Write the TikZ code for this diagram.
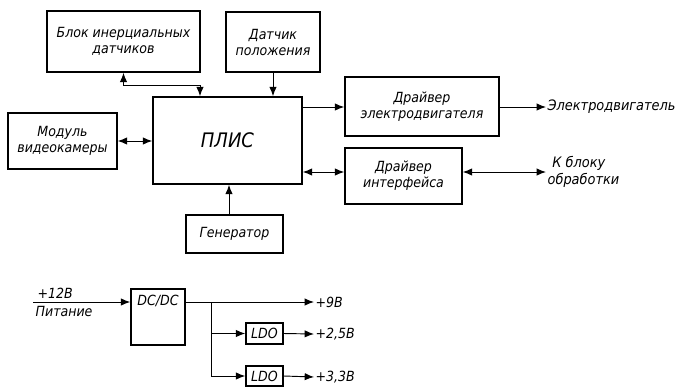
\documentclass[tikz,border=0pt]{standalone}
\usepackage{fontspec}
\setmainfont{DejaVu Sans Condensed}
\usetikzlibrary{arrows.meta}
\begin{document}
\begin{tikzpicture}[x=0.75pt,y=-0.75pt,
  font=\itshape\fontsize{10.5}{12}\selectfont,
  blk/.style 2 args={draw,line width=1.1pt,minimum width=#1*0.75pt,minimum height=#2*0.75pt,inner sep=0pt,align=center},
  lbl/.style={anchor=west,inner sep=1pt,align=left},
  conn/.style={line width=0.7pt},
  >={Latex[length=7pt,width=5.5pt]}]
\useasboundingbox (0,0) rectangle (682,387);
\node[blk={153}{61}] (inert) at (123.5,41.5) {Блок инерциальных\\датчиков};
\node[blk={94}{60}] (pos) at (273,42) {Датчик\\положения};
\node[blk={149}{87},font=\itshape\fontsize{15}{16}\selectfont] (plis) at (227.5,140.5) {ПЛИС};
\node[blk={109}{56}] (cam) at (62.5,141) {Модуль\\видеокамеры};
\node[blk={154}{59}] (drvm) at (422,106.5) {Драйвер\\электродвигателя};
\node[blk={117}{56}] (drvi) at (403.5,176) {Драйвер\\интерфейса};
\node[blk={97}{38}] (gen) at (234.5,234) {Генератор};
\node[lbl,font=\itshape\fontsize{10.8}{12.5}\selectfont] (motor) at (546,107) {Электродвигатель};
\node[lbl,font=\itshape\fontsize{10.8}{12.5}\selectfont] (kb) at (546,172) {\,\,К блоку\\обработки};
% power
\node[blk={54}{56}] (dcdc) at (158,317) {};
\node (dctext) at (158,301) {DC/DC};
\node[blk={37}{21}] (ldo1) at (264.5,333.5) {LDO};
\node[blk={37}{20}] (ldo2) at (264.5,376) {LDO};
\coordinate (in12) at (33,302);
\coordinate (br) at (211,302);
\node[lbl,anchor=south west] (t12) at (36,300) {+12В};
\node[lbl,anchor=north west] (pit) at (34,305) {Питание};
\node[lbl] (v9) at (314,302) {+9В};
\node[lbl] (v25) at (314,334) {+2,5В};
\node[lbl] (v33) at (314,377) {+3,3В};
% connectors
\coordinate (ia) at (123.5,85);
\coordinate (ib) at (200,85);
\draw[conn,<->] (inert.south) -- (ia) -- (ib) -- (ib |- plis.north);
\draw[conn,->] (pos.south) -- (pos.south |- plis.north);
\draw[conn,<->] (cam.east) -- (cam.east -| plis.west);
\draw[conn,->] (plis.east |- 0,107) -- (drvm.west |- 0,107);
\draw[conn,<->] (plis.east |- 0,172) -- (drvi.west |- 0,172);
\draw[conn,->] (drvm.east |- 0,107) -- (motor.west);
\draw[conn,<->] (drvi.east |- 0,172) -- (kb.west);
\draw[conn,->] (gen.north -| 229,0) -- (plis.south -| 229,0);
\draw[conn,->] (in12) -- (dcdc.west |- in12);
\draw[conn,->] (dcdc.east |- in12) -- (v9.west);
\draw[conn,->] (br) |- (ldo2.west);
\draw[conn,->] (br |- ldo1.west) -- (ldo1.west);
\draw[conn,->] (ldo1.east) -- (v25.west);
\draw[conn,->] (ldo2.east) -- (v33.west);
\end{tikzpicture}
\end{document}
